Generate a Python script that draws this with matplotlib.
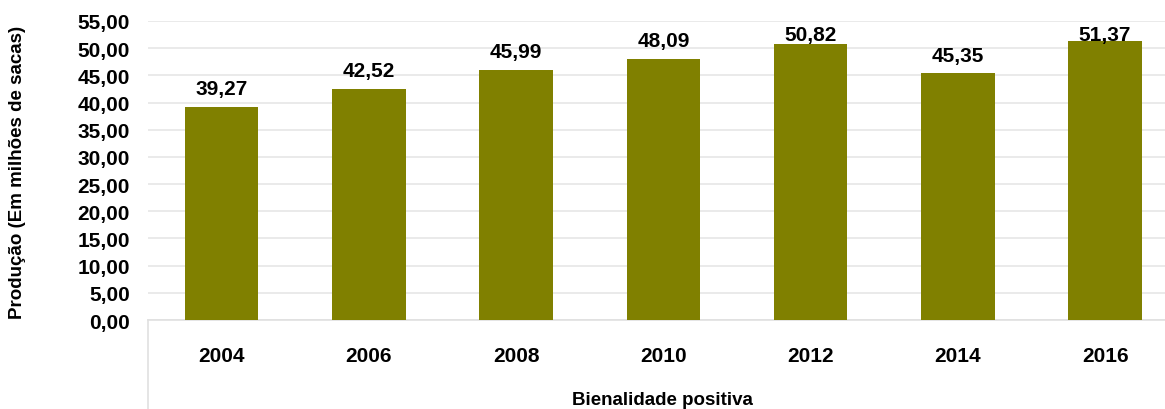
import matplotlib.pyplot as plt
from matplotlib.lines import Line2D

years = ['2004', '2006', '2008', '2010', '2012', '2014', '2016']
producao = [39.27, 42.52, 45.99, 48.09, 50.82, 45.35, 51.37]
yticks = [0, 5, 10, 15, 20, 25, 30, 35, 40, 45, 50, 55]

plt.rcParams['font.family'] = ['Liberation Sans', 'DejaVu Sans']
plt.rcParams['font.weight'] = 'bold'

fig = plt.figure(figsize=(11.65, 4.1), dpi=100)
ax = fig.add_axes([148 / 1165, 1 - 321 / 410, (1178.7 - 148) / 1165, 299 / 410])

x = range(len(years))
ax.bar(x, producao, width=0.5, color='#808000', zorder=3)

# rótulos de dados, mantidos dentro da área do gráfico
for i, v in zip(x, producao):
    ax.text(i, min(v + 2.3, 51.5), f'{v:.2f}'.replace('.', ','), ha='center', va='baseline',
            fontsize=15, fontweight='bold')

ax.set_xlim(-0.5, len(years) - 0.5)
ax.set_ylim(0, 55)
ax.set_yticks(yticks)
ax.set_yticklabels([f'{t:.2f}'.replace('.', ',') for t in yticks], fontsize=15, fontweight='bold')
ax.set_xticks(list(x))
ax.set_xticklabels(years, fontsize=15, fontweight='bold')
ax.tick_params(axis='both', length=0)
ax.tick_params(axis='x', pad=19)
ax.tick_params(axis='y', pad=13)
ax.yaxis.grid(True, color='#e6e6e6', linewidth=1.2, zorder=0)
for s in ['top', 'right', 'left']:
    ax.spines[s].set_visible(False)
ax.spines['bottom'].set_color('#e0e0e0')
ax.spines['bottom'].set_linewidth(1.2)

ax.add_line(Line2D([0, 0], [0, -0.35], transform=ax.transAxes, color='#e0e0e0',
                   linewidth=1.2, clip_on=False))

fig.text(18 / 1165, 1 - 172 / 410, 'Produção (Em milhões de sacas)', rotation=90,
         ha='center', va='center', fontsize=13.5, fontweight='bold')
fig.text(662 / 1165, 1 - 392 / 410, 'Bienalidade positiva', ha='center', va='top',
         fontsize=13.5, fontweight='bold')

fig.savefig('out.png', dpi=100)
